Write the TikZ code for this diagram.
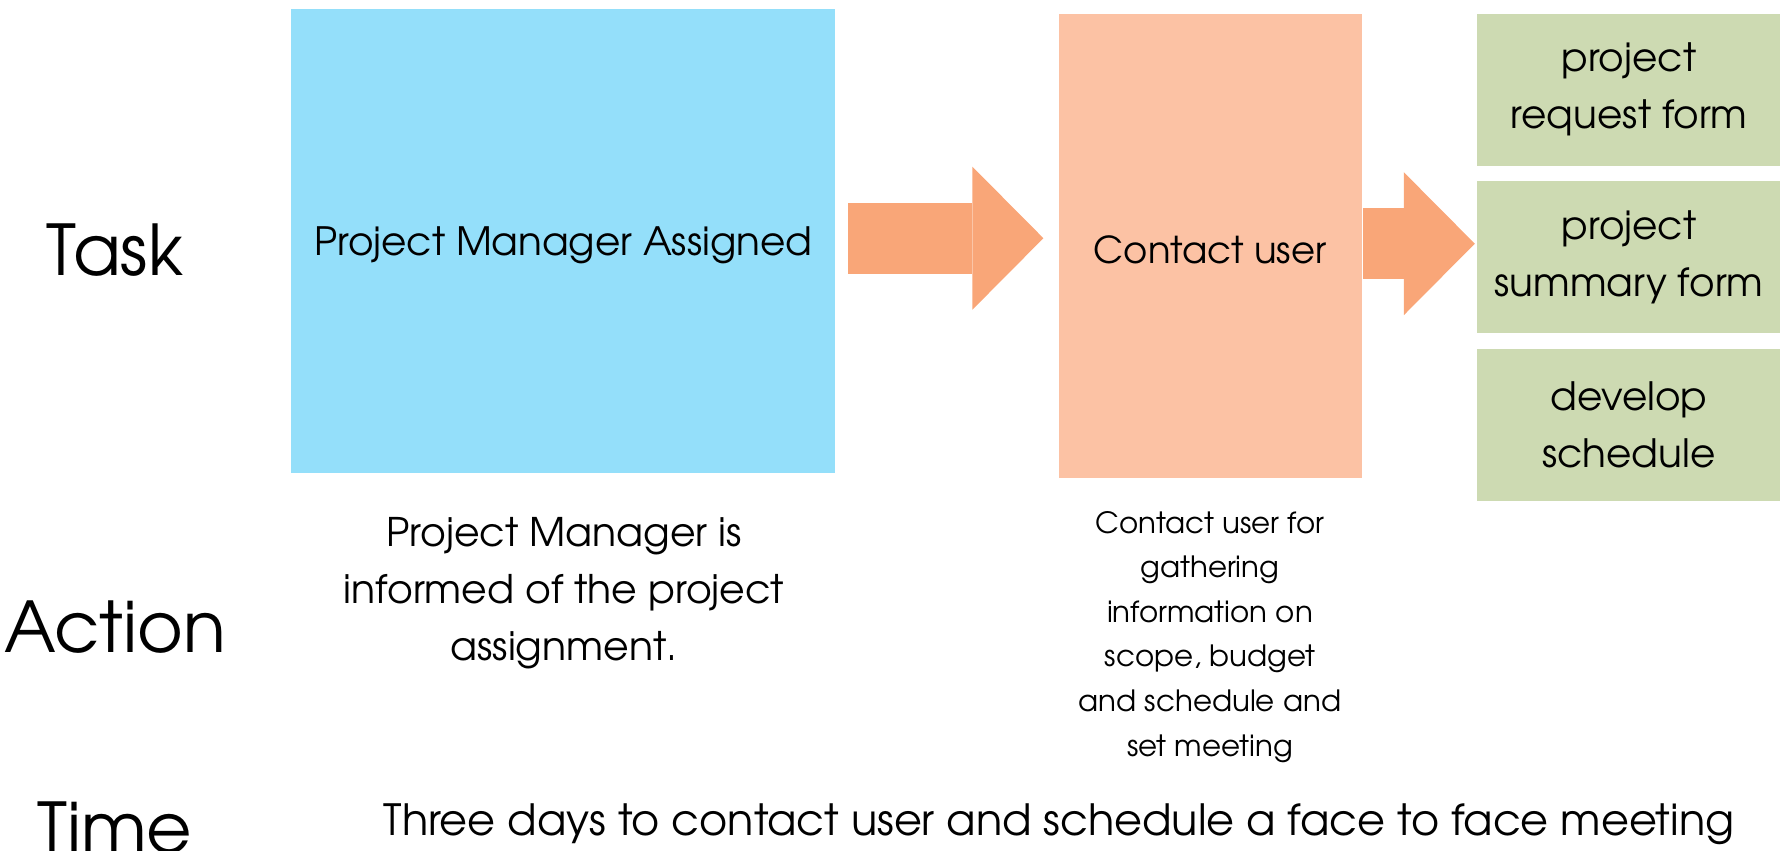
\documentclass[tikz,border=0pt]{standalone}
\usepackage{fontspec}
\setmainfont{texgyreadventor-regular.otf}
\usepackage{xcolor}
\usepackage{tikz}
\usetikzlibrary{arrows.meta, positioning}
\definecolor{pmblue}{RGB}{148,223,250}
\definecolor{cusalmon}{RGB}{252,194,164}
\definecolor{arrsalmon}{RGB}{249,166,120}
\definecolor{outgreen}{RGB}{205,218,178}
\tikzstyle{rowlabel} = [anchor=base, inner sep=0pt, font=\fontsize{70}{84}\selectfont]
\tikzstyle{bigbox} = [rectangle, minimum width=544pt, minimum height=464pt, inner sep=0pt, text centered, text height=36pt, font=\fontsize{39}{57}\selectfont]
\tikzstyle{outbox} = [rectangle, minimum width=304pt, minimum height=152pt, inner sep=0pt, align=center, fill=outgreen, font=\fontsize{39}{57}\selectfont]
\tikzstyle{note} = [anchor=base, inner sep=0pt, align=center]
\tikzstyle{blockarrow} = [line width=71pt, draw=arrsalmon, -{Triangle[width=143pt, length=71pt, line width=0pt, color=arrsalmon]}]

\begin{document}
\begin{tikzpicture}[x=1pt, y=-1pt]
        \useasboundingbox (0,0) rectangle (1780,851);
        \node (box1) [bigbox, fill=pmblue, anchor=north west] at (291,9) {Project Manager Assigned};
        \node (box2) [bigbox, fill=cusalmon, minimum width=303pt, right=223pt of box1, yshift=-5pt, font=\fontsize{37}{57}\selectfont] {Contact user};
        \node (out2) [outbox, right=115pt of box2, yshift=-11pt] {project\\summary form};
        \node (out1) [outbox, above=15pt of out2] {project\\request form};
        \node (out3) [outbox, below=15pt of out2] {develop\\schedule};

        \node (task) [rowlabel] at (115,275) {Task};
        \node (action) [rowlabel] at (115,652) {Action};
        \node (time) [rowlabel] at (115,853) {Time};

        % last line of each note sits on the given point
        \node (act1) [note, font=\fontsize{39.4}{57}\selectfont] at (564,660) {Project Manager is\\informed of the project\\assignment.};
        \node (act2) [note, font=\fontsize{29.3}{44.6}\selectfont] at (1210,756) {Contact user for\\gathering\\information on\\scope, budget\\and schedule and\\set meeting};
        \node (time1) [note, font=\fontsize{43}{57}\selectfont] at (1059,835) {Three days to contact user and schedule a face to face meeting};

        \draw [blockarrow, shorten <=13pt, shorten >=15pt] ([yshift=3pt]box1.east) -- ([yshift=3pt]box1.east -| box2.west);
        \draw [blockarrow, shorten <=1pt, shorten >=2pt] ([yshift=2.5pt]box2.east) -- ([yshift=2.5pt]box2.east -| out2.west);
\end{tikzpicture}
\end{document}
